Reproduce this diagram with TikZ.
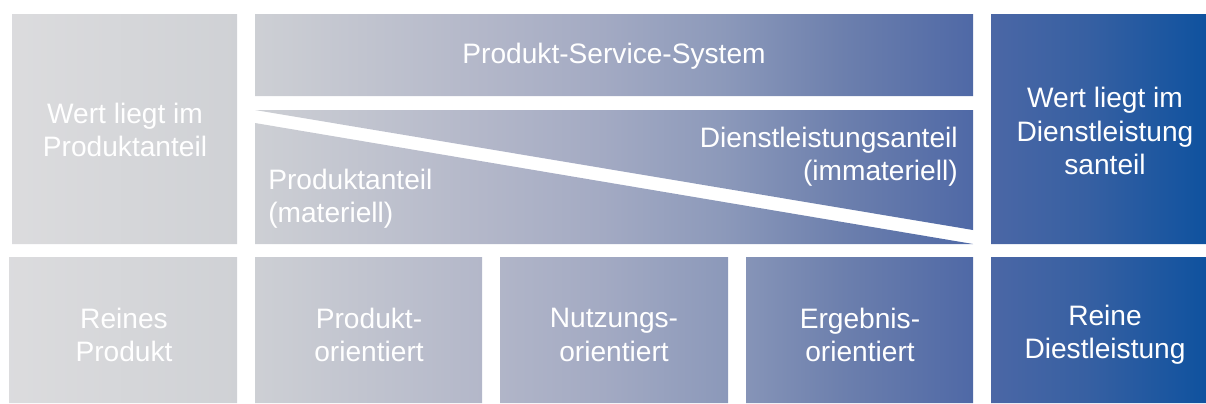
\documentclass[tikz,border=0pt]{standalone}
\usepackage{fontspec}
\setmainfont{Liberation Sans}
\usetikzlibrary{positioning}
\definecolor{pssA}{HTML}{DCDCDE}
\definecolor{pssB}{HTML}{CFD1D5}
\definecolor{pssC}{HTML}{B3B7C9}
\definecolor{pssD}{HTML}{A3AAC3}
\definecolor{pssE}{HTML}{8C99BA}
\definecolor{pssF}{HTML}{6C7FAD}
\definecolor{pssG}{HTML}{4E68A6}
\definecolor{pssH}{HTML}{3760A2}
\definecolor{pssI}{HTML}{0F529F}
\pgfdeclarehorizontalshading{pss}{100bp}{
  color(0bp)=(pssA); color(25bp)=(pssA); color(35bp)=(pssB);
  color(45bp)=(pssC); color(50bp)=(pssD); color(55bp)=(pssE);
  color(60bp)=(pssF); color(65.5bp)=(pssG); color(70bp)=(pssH);
  color(75bp)=(pssI); color(100bp)=(pssI)}
\tikzset{
  label/.style={
    text=white,
    font=\fontsize{20pt}{23.6pt}\selectfont,
    align=center,
    inner sep=0pt
  },
  leftlabel/.style={label, align=left, anchor=west},
  rightlabel/.style={label, align=right, anchor=east}
}

\begin{document}
\begin{tikzpicture}[x=0.025cm, y=-0.025cm]
% frame
\useasboundingbox (0,0) rectangle (1206,403);

% boxes
\begin{scope}
  \clip (12,14) rectangle (237,244)
        (255,14) rectangle (973,96)
        (255,110) -- (973,110) -- (973,230) -- cycle
        (255,123) -- (973,244) -- (255,244) -- cycle
        (991,14) rectangle (1206,244)
        (9,257) rectangle (237,403)
        (255,257) rectangle (482,403)
        (500,257) rectangle (728,403)
        (746,257) rectangle (973,403)
        (991,257) rectangle (1206,403);
  \shade[shading=pss] (0,0) rectangle (1206,403);
\end{scope}

% nodes
\node[label] (wertprod) at (125,130) {Wert liegt im\\Produktanteil};
\node[label] (pss) at (614,56) {Produkt-Service-System};
\node[rightlabel] (dlanteil) at (958,157) {Dienstleistungsanteil\\(immateriell)};
\node[leftlabel] (prodanteil) at (268,199) {Produktanteil\\(materiell)};
\node[label] (wertdl) at (1105,131) {Wert liegt im\\Dienstleistung\\santeil};

\node[label] (reinprod) at (124,335) {Reines\\Produkt};
\node[label] (prodor) at (369,335) {Produkt-\\orientiert};
\node[label] (nutzor) at (614,335) {Nutzungs-\\orientiert};
\node[label] (ergor) at (860,335) {Ergebnis-\\orientiert};
\node[label] (reindl) at (1105,335) {Reine\\Diestleistung};

\end{tikzpicture}
\end{document}
